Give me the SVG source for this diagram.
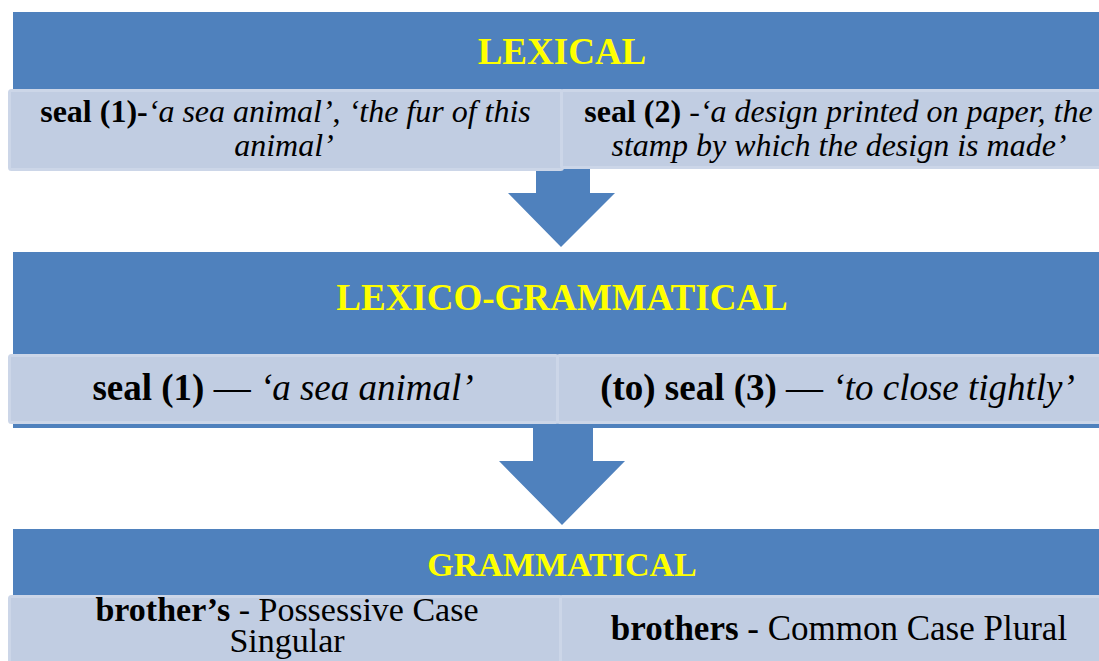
<svg xmlns="http://www.w3.org/2000/svg" width="1099" height="661" viewBox="0 0 1099 661">
<style>
.band{fill:#4F81BD}
.cell{fill:#C1CDE2;stroke:#CCD6E8;stroke-width:3}
.arrow{fill:#4F81BD}
.t{font-family:'Liberation Serif','Times New Roman','DejaVu Serif',serif;fill:#000000}
.title{fill:#FFFF00;font-weight:bold;text-anchor:middle}
.c{text-anchor:middle}
.b{font-weight:bold}
.i{font-style:italic}
</style>
<rect width="1099" height="661" fill="#FFFFFF"/>
<g id="connectors">
<polygon class="arrow" points="536,160 590,160 590,193 615,193 561,247 508,193 536,193"/>
<polygon class="arrow" points="533,420 593,420 593,461 625,461 562,525 499,461 533,461"/>
</g>
<g id="lexical">
<rect class="band" x="13" y="12" width="1090" height="156"/>
<text class="t title" font-family="Liberation Serif, serif" x="562" y="64" font-size="37">LEXICAL</text>
<rect class="cell" x="9.5" y="90.5" width="553" height="79" rx="2"/>
<rect class="cell" x="561.5" y="90.5" width="545" height="77" rx="2"/>
<text class="t c" font-family="Liberation Serif, serif" x="285.5" y="122" font-size="32"><tspan class="b">seal (1)-</tspan><tspan class="i">‘a sea animal’</tspan>, <tspan class="i">‘the fur of this</tspan></text>
<text class="t c i" font-family="Liberation Serif, serif" x="284" y="156" font-size="32">animal’</text>
<text class="t c" font-family="Liberation Serif, serif" x="838.5" y="122" font-size="32"><tspan class="b">seal (2)</tspan> -<tspan class="i">‘a design printed on paper, the</tspan></text>
<text class="t c i" font-family="Liberation Serif, serif" x="839" y="156" font-size="32">stamp by which the design is made’</text>
</g>
<g id="lexico-grammatical">
<rect class="band" x="13" y="252" width="1090" height="176"/>
<text class="t title" font-family="Liberation Serif, serif" x="562" y="310" font-size="37">LEXICO-GRAMMATICAL</text>
<rect class="cell" x="9.5" y="355.5" width="548" height="67" rx="2"/>
<rect class="cell" x="557.5" y="355.5" width="548" height="67" rx="2"/>
<text class="t c" font-family="Liberation Serif, serif" x="283" y="400" font-size="37"><tspan class="b">seal (1)</tspan> — <tspan class="i">‘a sea animal’</tspan></text>
<text class="t c" font-family="Liberation Serif, serif" x="837.5" y="400" font-size="37"><tspan class="b">(to) seal (3)</tspan> — <tspan class="i">‘to close tightly’</tspan></text>
</g>
<g id="grammatical">
<rect class="band" x="13" y="529" width="1090" height="72"/>
<text class="t title" font-family="Liberation Serif, serif" x="562" y="576" font-size="34">GRAMMATICAL</text>
<rect class="cell" x="9.5" y="596.5" width="552" height="80" rx="2"/>
<rect class="cell" x="560.5" y="596.5" width="545" height="80" rx="2"/>
<text class="t c" font-family="Liberation Serif, serif" x="287" y="621" font-size="34"><tspan class="b">brother’s</tspan> - Possessive Case</text>
<text class="t c" font-family="Liberation Serif, serif" x="287" y="652" font-size="34">Singular</text>
<text class="t c" font-family="Liberation Serif, serif" x="839" y="640" font-size="35"><tspan class="b">brothers</tspan> - Common Case Plural</text>
</g>
</svg>
